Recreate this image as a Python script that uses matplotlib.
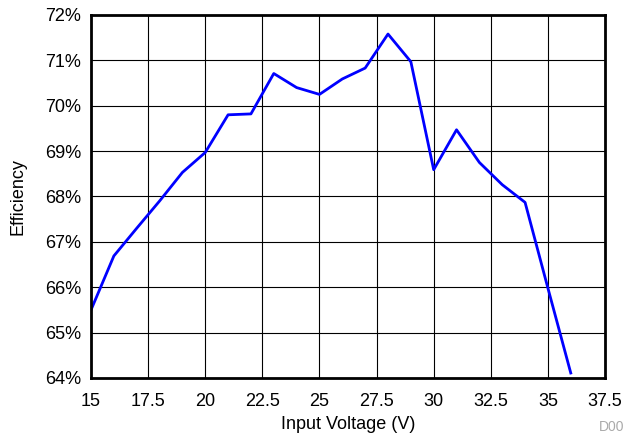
import matplotlib
matplotlib.use('Agg')
import matplotlib.pyplot as plt
from matplotlib.ticker import FuncFormatter

voltage = [15, 16, 17, 18, 19, 20, 21, 22, 23, 24, 25, 26, 27, 28, 29, 30,
           31, 32, 33, 34, 35, 36]
efficiency = [65.50, 66.69, 67.30, 67.90, 68.53, 68.97, 69.80, 69.82, 70.71,
              70.40, 70.25, 70.59, 70.83, 71.58, 70.97, 68.59, 69.47, 68.75,
              68.26, 67.87, 65.98, 64.11]
x_ticks = [15, 17.5, 20, 22.5, 25, 27.5, 30, 32.5, 35, 37.5]
y_ticks = [64, 65, 66, 67, 68, 69, 70, 71, 72]

plt.rcParams['font.family'] = ['Liberation Sans', 'DejaVu Sans']

fig = plt.figure(figsize=(6.26, 4.38), dpi=100)
ax = fig.add_axes([0.1454, 0.137, 0.8211, 0.8288])

ax.plot(voltage, efficiency, color='#0000ff', linewidth=2, zorder=3)

ax.set_xlim(15, 37.5)
ax.set_ylim(64, 72)
ax.set_xticks(x_ticks)
ax.set_yticks(y_ticks)
ax.set_xticklabels([f'{t:g}' for t in x_ticks])
ax.yaxis.set_major_formatter(FuncFormatter(lambda v, p: f'{v:.0f}%'))
ax.tick_params(length=0, labelsize=13, colors='black')
ax.tick_params(axis='x', pad=11)
ax.tick_params(axis='y', pad=7)
ax.grid(True, color='black', linewidth=0.8)
for s in ax.spines.values():
    s.set_linewidth(2)
    s.set_zorder(4)

ax.set_xlabel('Input Voltage (V)', fontsize=13, labelpad=4)
ax.set_ylabel('Efficiency', fontsize=13, labelpad=13)
fig.text(0.998, 0.01, 'D00', color='#aaaaaa', fontsize=10, ha='right', va='bottom')

fig.savefig('out.png', dpi=100)
